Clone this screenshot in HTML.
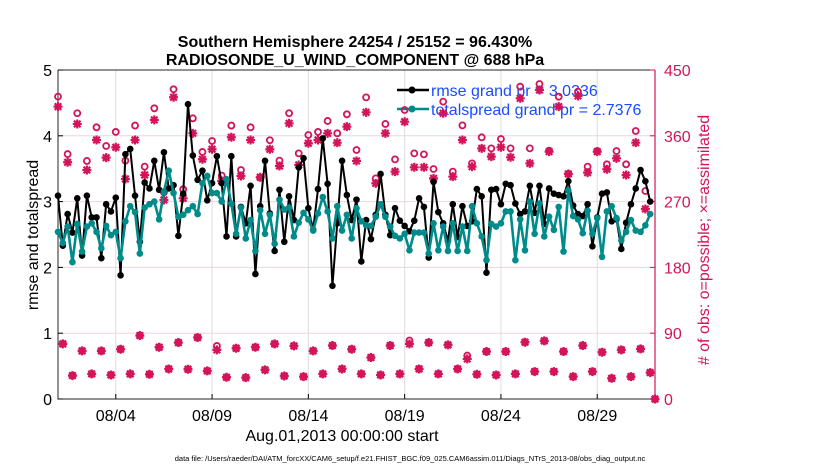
<!DOCTYPE html>
<html><head><meta charset="utf-8"><style>
body{margin:0;background:#fff;}
svg{display:block;font-family:"Liberation Sans",sans-serif;}
</style></head><body>
<svg id="chart" width="830" height="470" viewBox="0 0 830 470" xmlns="http://www.w3.org/2000/svg">
<rect width="830" height="470" fill="#fff"/>
<g id="grid"></g>
<g id="axes"></g>
<g id="obs"></g>
<g id="lines"></g>
<g id="legend"></g>
<text x="355" y="47" text-anchor="middle" font-size="16" font-weight="bold">Southern Hemisphere 24254 / 25152 = 96.430%</text>
<text x="355" y="65" text-anchor="middle" font-size="16" font-weight="bold">RADIOSONDE_U_WIND_COMPONENT @ 688 hPa</text>
<text transform="translate(38,235) rotate(-90)" text-anchor="middle" font-size="16">rmse and totalspread</text>
<text transform="translate(709,240) rotate(-90)" text-anchor="middle" font-size="16" fill="#d4145a"># of obs: o=possible; ×=assimilated</text>
<text x="342" y="441" text-anchor="middle" font-size="16">Aug.01,2013 00:00:00 start</text>
<text x="410" y="461" text-anchor="middle" font-size="7.5">data file: /Users/raeder/DAI/ATM_forcXX/CAM6_setup/f.e21.FHIST_BGC.f09_025.CAM6assim.011/Diags_NTrS_2013-08/obs_diag_output.nc</text>
</svg>
<script>
const rmse = [3.09,2.33,2.81,2.53,3.05,2.18,3.09,2.76,2.76,2.14,2.96,2.85,3.06,1.88,3.72,3.80,3.09,2.39,3.29,3.20,3.62,3.18,3.75,3.20,3.25,2.48,3.12,4.48,3.70,3.33,3.47,3.02,
3.28,3.69,3.28,2.47,3.69,2.47,2.92,2.67,3.24,1.90,2.93,3.62,2.82,2.25,3.18,2.39,3.08,2.72,3.52,3.66,2.90,2.57,3.19,3.96,3.27,1.72,2.67,3.62,3.10,2.72,3.03,2.09,
2.72,2.43,2.80,3.42,2.80,2.49,2.90,2.71,2.63,2.55,2.71,3.05,2.92,2.15,3.30,2.84,2.67,2.40,2.96,2.46,2.93,2.63,2.70,3.19,3.08,1.92,3.18,3.19,2.96,3.27,
3.25,2.97,2.81,2.85,3.24,2.83,3.24,2.66,3.20,3.12,3.10,3.08,3.31,2.94,2.81,2.78,2.96,2.32,2.76,3.12,3.14,2.70,2.73,2.28,2.68,2.96,3.20,3.48,3.31,3.00];
const spread = [2.54,2.37,2.62,2.08,2.66,2.24,2.62,2.67,2.54,2.29,2.63,2.49,2.54,2.14,2.70,2.93,2.84,2.21,2.91,2.96,3.00,2.73,3.15,3.47,3.13,2.77,2.80,2.87,2.93,2.81,3.28,3.39,
3.13,3.13,3.00,3.34,2.97,2.51,2.91,2.44,2.72,2.25,2.87,2.51,2.80,2.36,3.03,2.88,2.91,2.47,2.68,2.83,2.73,2.56,2.82,3.07,2.85,2.44,2.93,2.56,2.80,2.44,2.90,2.70,
2.64,2.63,2.77,2.96,2.77,2.62,2.48,2.44,2.51,2.26,2.53,2.53,2.53,2.21,2.67,2.26,2.62,2.25,2.67,2.25,2.62,2.25,2.93,2.67,2.47,2.11,2.66,2.62,2.67,2.85,
2.85,2.11,2.73,2.26,3.00,2.51,2.97,2.47,2.77,2.57,2.92,2.24,3.17,2.78,2.73,2.52,2.86,2.51,2.75,2.16,2.85,2.93,2.75,2.41,2.54,2.72,2.56,2.54,2.64,2.81];
const possibleMain = [413.6,335,390.8,325.6,371.6,346,365.3,326,374,317.8,397.6,282.7,423.6,286.8,383.9,337.9,352.9,305.5,374,313.2,371.6,302.7,353.9,326,390.8,336,361.1,365.3,380.3,363.4,389.4,340.6,
412.6,301.8,376.2,327.8,395.3,336,334.6,314.6,406.7,311,374.3,322.3,357.9,342.8,355.6,342.8,427.2,342.8,430.9,339.7,413.5,307.8,420.4,317.8,339.2,321,339.2,321,366.6,284.5,0];
const assimMain = [399.9,323.8,376.2,313.2,354.3,330.1,344.3,301,354.3,306.4,381.7,272.2,412.7,274.5,363.4,327.9,341.6,298.2,358,305,354.3,303.3,341.6,318.7,377.1,320.1,349.8,354.3,363.4,350.6,372.5,325.6,
392.1,295,363.4,311,379.3,316.9,316.9,301.8,390.8,304.1,354.3,317.8,342.8,331.5,344.3,330.6,411.3,322.3,422.7,338.3,399.9,307.8,414.5,309.6,338.3,314.2,329.2,306.4,350.6,259.9,0];
const possibleOff = [75.4,32,65.8,34.3,65.8,32.9,68.1,34.3,86.8,33.8,70.8,41.1,77.2,40.7,84.1,38.4,72.6,29.7,69.4,29.2,70.8,39.8,75.4,31.5,72.6,30.6,65.8,34.3,73.1,41.1,68.1,34.3,56.7,32.9,73.1,34.3,80,41.1,77.2,34.3,74,41.1,59.4,33.8,64.9,32.9,64.9,34.3,77.7,37.5,79.5,37.5,64.9,30.6,73.1,37.5,64,28.3,67.2,30.6,68.5,36.1];
const assimOff = [75.4,32,65.8,34.3,65.8,32.9,68.1,34.3,86.8,33.8,70.8,41.1,77.2,40.7,84.1,38.4,67.2,29.7,69.4,29.2,70.8,39.8,75.4,31.5,72.6,30.6,65.8,34.3,73.1,41.1,68.1,34.3,56.7,32.9,73.1,34.3,75.4,41.1,77.2,34.3,74,41.1,54.8,33.8,64.9,32.9,64.9,34.3,77.7,37.5,79.5,37.5,64.9,30.6,73.1,37.5,64,28.3,67.2,30.6,68.5,36.1];
const leftTicks = [0,1,2,3,4,5];
const rightTicks = [0,90,180,270,360,450];
const dateTicks = ["08/04","08/09","08/14","08/19","08/24","08/29"];
const dateTickDays = [3,8,13,18,23,28];

const NS="http://www.w3.org/2000/svg";
const X0=58,X1=655,Y0=399,Y1=70,DAYS=31;
const xs=d=>X0+d*(X1-X0)/DAYS;
const yl=v=>Y0-v*(Y0-Y1)/5;
const yr=v=>Y0-v*(Y0-Y1)/450;
const RED="#d4145a";
function mk(tag,parent,attrs){const e=document.createElementNS(NS,tag);for(const k in attrs)e.setAttribute(k,attrs[k]);parent.appendChild(e);return e;}
const grid=document.getElementById('grid'),axes=document.getElementById('axes'),obs=document.getElementById('obs'),lines=document.getElementById('lines'),legend=document.getElementById('legend');

rightTicks.forEach((t,i)=>{
  if(i>0&&i<rightTicks.length-1){const g=mk('line',grid,{x1:X0,x2:X1,y1:yr(t),y2:yr(t),stroke:'#efd3de','stroke-width':1});
  
  }
});
dateTickDays.forEach((d,i)=>{
  const g=mk('line',grid,{x1:xs(d),x2:xs(d),y1:Y1,y2:Y0,stroke:'#dcdcdc','stroke-width':1});
  
  
  const t=mk('text',axes,{x:xs(d),y:Y0+22,'text-anchor':'middle','font-size':16});
  t.textContent=dateTicks[i];
  
  
  mk('line',axes,{x1:xs(d),x2:xs(d),y1:Y0,y2:Y0-5,stroke:'#000'});
});
const box=mk('path',axes,{d:`M${X0},${Y1}V${Y0}H${X1}M${X0},${Y1}H${X1}`,stroke:'#262626',fill:'none','stroke-width':1});


const ra=mk('line',axes,{x1:X1,x2:X1,y1:Y1,y2:Y0,stroke:RED,'stroke-width':1.2});


leftTicks.forEach(v=>{
  mk('line',axes,{x1:X0,x2:X0+5,y1:yl(v),y2:yl(v),stroke:'#000'});
  const t=mk('text',axes,{x:X0-6,y:yl(v)+6,'text-anchor':'end','font-size':16});
  t.textContent=v;
  
  
});
rightTicks.forEach(v=>{
  mk('line',axes,{x1:X1,x2:X1-5,y1:yr(v),y2:yr(v),stroke:RED});
  const t=mk('text',axes,{x:X1+9,y:yr(v)+6,'text-anchor':'start','font-size':16,fill:RED});
  t.textContent=v;
  
  
});

function star(parent,x,y){
  const s=mk('path',parent,{d:`M${x-4.5},${y}H${x+4.5}M${x},${y-4.5}V${y+4.5}M${x-3.3},${y-3.3}L${x+3.3},${y+3.3}M${x-3.3},${y+3.3}L${x+3.3},${y-3.3}`,stroke:RED,'stroke-width':2.2});
  
  
}
function ring(parent,x,y){
  const c=mk('circle',parent,{cx:x,cy:y,r:3,fill:'none',stroke:RED,'stroke-width':1.8});
  
  
}
possibleMain.forEach((v,k)=>ring(obs,xs(k*0.5),yr(v)));
assimMain.forEach((v,k)=>star(obs,xs(k*0.5),yr(v)));
possibleOff.forEach((v,k)=>ring(obs,xs(0.25+k*0.5),yr(v)));
assimOff.forEach((v,k)=>star(obs,xs(0.25+k*0.5),yr(v)));

function series(vals,color,name,w){
  const g=mk('g',lines,{});
  
  
  const p=mk('polyline',g,{points:vals.map((v,i)=>xs(i*0.25)+','+yl(v)).join(' '),fill:'none',stroke:color,'stroke-width':w,'stroke-linejoin':'round'});
  
  
  vals.forEach((v,i)=>{const c=mk('circle',g,{cx:xs(i*0.25),cy:yl(v),r:3.3,fill:color});
    
    });
}
series(rmse,'#000','rmse-series',2);
series(spread,'#008b8b','totalspread-series',2.6);

[['rmse grand pr = 3.0336','#000',90,'legend-entry-rmse'],['totalspread grand pr = 2.7376','#008b8b',109,'legend-entry-totalspread']].forEach(([txt,c,y,nm])=>{
  const g=mk('g',legend,{});
  
  
  mk('line',g,{x1:397,x2:429,y1:y,y2:y,stroke:c,'stroke-width':2.4});
  mk('circle',g,{cx:412,cy:y,r:3.5,fill:c});
  const t=mk('text',g,{x:431,y:y+6,'font-size':16,fill:'#1a4cff'});
  t.textContent=txt;
});
legend.parentNode.insertBefore(legend,obs);
</script>
</body></html>
